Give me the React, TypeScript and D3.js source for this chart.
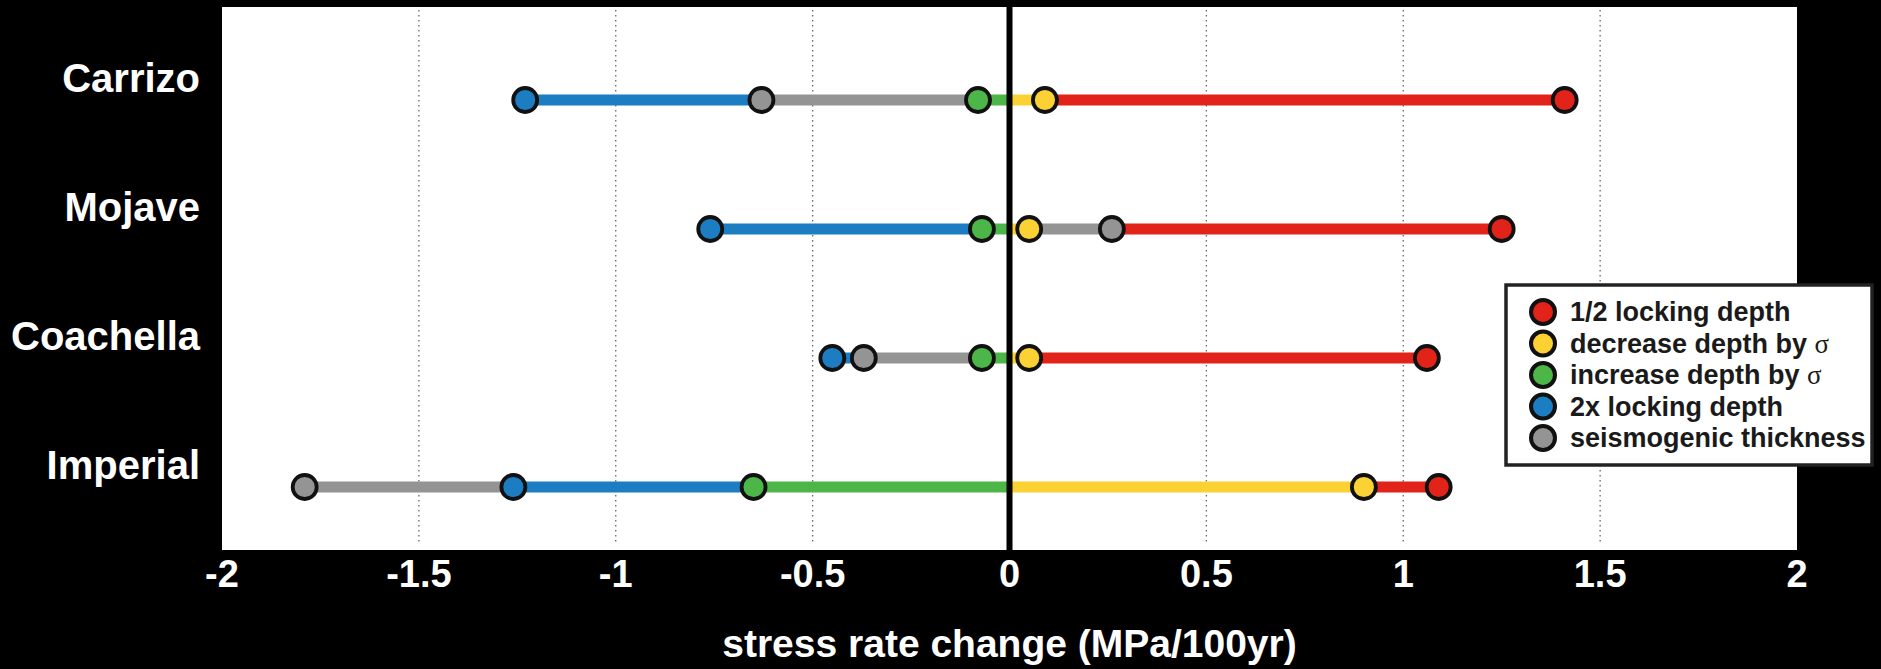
import React from "react";
import * as d3 from "d3";

// fault segments, top to bottom
const categories = ["Carrizo", "Mojave", "Coachella", "Imperial"];

// stress rate change (MPa/100yr) for each model variant, one value per fault
const halfLocking = [1.41, 1.25, 1.06, 1.09];
const decreaseDepth = [0.09, 0.05, 0.05, 0.9];
const increaseDepth = [-0.08, -0.07, -0.07, -0.65];
const doubleLocking = [-1.23, -0.76, -0.45, -1.26];
const seismogenic = [-0.63, 0.26, -0.37, -1.79];

const seriesLabels = [
    "1/2 locking depth",
    "decrease depth by ",
    "increase depth by ",
    "2x locking depth",
    "seismogenic thickness",
];
const seriesColors = ["#e2231a", "#fbd133", "#4cb748", "#1c7dc3", "#949494"];
const sigmaAfter = [false, true, true, false, false];

const xTicks = [-2, -1.5, -1, -0.5, 0, 0.5, 1, 1.5, 2];
const gridTicks = [-1.5, -1, -0.5, 0.5, 1, 1.5];

const width = 1881;
const height = 669;
const plotLeft = 222;
const plotRight = 1797;
const plotTop = 7;
const plotBottom = 550;
const font = "'Liberation Sans', Arial, Helvetica, sans-serif";

export default function App() {
    const series = [halfLocking, decreaseDepth, increaseDepth, doubleLocking, seismogenic];

    const x = d3.scaleLinear().domain([-2, 2]).range([plotLeft, plotRight]);
    const y = d3
        .scalePoint()
        .domain(categories)
        .range([100, 487]);

    // build the coloured segments: each point connects toward zero
    const rows = categories.map((cat, ci) => {
        const pts = series.map((s, si) => ({ v: s[ci], color: seriesColors[si], si }));
        const neg = pts.filter((p) => p.v < 0).sort((a, b) => a.v - b.v);
        const pos = pts.filter((p) => p.v >= 0).sort((a, b) => a.v - b.v);
        const segs = [];
        neg.forEach((p, i) => {
            const end = i + 1 < neg.length ? neg[i + 1].v : 0;
            segs.push({ from: p.v, to: end, color: p.color });
        });
        pos.forEach((p, i) => {
            const start = i > 0 ? pos[i - 1].v : 0;
            segs.push({ from: start, to: p.v, color: p.color });
        });
        return { cat, pts, segs };
    });

    const legendX = 1506;
    const legendY = 285;

    return (
        <svg
            width={width}
            height={height}
            viewBox={`0 0 ${width} ${height}`}
            style={{ position: "fixed", left: 0, top: 0, display: "block" }}
        >
            <rect x={0} y={0} width={width} height={height} fill="#000" />
            <rect
                x={plotLeft}
                y={plotTop}
                width={plotRight - plotLeft}
                height={plotBottom - plotTop}
                fill="#fff"
            />

            {/* dotted grid */}
            {gridTicks.map((t) => (
                <line
                    key={t}
                    x1={x(t)}
                    x2={x(t)}
                    y1={plotTop + 3}
                    y2={plotBottom - 8}
                    stroke="#666"
                    strokeWidth={1.3}
                    strokeDasharray="1.5 3.5"
                />
            ))}

            {/* segments */}
            {rows.map((r) =>
                r.segs.map((s, i) => (
                    <line
                        key={r.cat + i}
                        x1={x(s.from)}
                        x2={x(s.to)}
                        y1={y(r.cat)}
                        y2={y(r.cat)}
                        stroke={s.color}
                        strokeWidth={11}
                    />
                ))
            )}

            {/* zero line */}
            <line
                x1={x(0)}
                x2={x(0)}
                y1={plotTop}
                y2={plotBottom}
                stroke="#000"
                strokeWidth={6}
            />

            {/* dots */}
            {rows.map((r) =>
                r.pts.map((p) => (
                    <circle
                        key={r.cat + p.si}
                        cx={x(p.v)}
                        cy={y(r.cat)}
                        r={12}
                        fill={p.color}
                        stroke="#111"
                        strokeWidth={3.8}
                    />
                ))
            )}

            {/* category labels */}
            {categories.map((c) => (
                <text
                    key={c}
                    x={200}
                    y={y(c) - 8}
                    textAnchor="end"
                    fill="#fff"
                    fontFamily={font}
                    fontWeight="bold"
                    fontSize={40}
                >
                    {c}
                </text>
            ))}

            {/* x tick labels */}
            {xTicks.map((t) => (
                <text
                    key={t}
                    x={x(t)}
                    y={587}
                    textAnchor="middle"
                    fill="#fff"
                    fontFamily={font}
                    fontWeight="bold"
                    fontSize={38}
                >
                    {t}
                </text>
            ))}

            <text
                x={x(0)}
                y={657}
                textAnchor="middle"
                fill="#fff"
                fontFamily={font}
                fontWeight="bold"
                fontSize={39}
            >
                stress rate change (MPa/100yr)
            </text>

            {/* legend */}
            <rect
                x={legendX}
                y={legendY}
                width={366}
                height={180}
                fill="#fff"
                stroke="#222"
                strokeWidth={3.5}
            />
            {seriesLabels.map((label, i) => {
                const cy = legendY + 27 + i * 31.5;
                return (
                    <g key={label}>
                        <circle
                            cx={legendX + 37}
                            cy={cy}
                            r={12}
                            fill={seriesColors[i]}
                            stroke="#111"
                            strokeWidth={4}
                        />
                        <text
                            x={legendX + 64}
                            y={cy + 9}
                            fill="#1a1a1a"
                            fontFamily={font}
                            fontWeight="bold"
                            fontSize={27}
                        >
                            {label}
                            {sigmaAfter[i] ? (
                                <tspan
                                    fontFamily="'Liberation Serif', 'DejaVu Serif', serif"
                                    fontWeight="normal"
                                >
                                    σ
                                </tspan>
                            ) : null}
                        </text>
                    </g>
                );
            })}
        </svg>
    );
}
